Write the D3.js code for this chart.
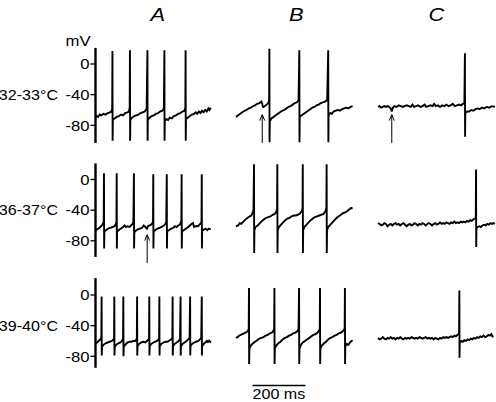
<!DOCTYPE html>
<html><head><meta charset="utf-8">
<script src="https://cdn.jsdelivr.net/npm/d3@7"></script>
<style>
html,body{margin:0;padding:0;background:#fff;}
svg{display:block;}
text{font-family:"Liberation Sans",Arial,Helvetica,sans-serif;fill:#000;}
</style></head>
<body>
<svg id="chart" width="496" height="402"></svg>
<script>
// ---------- DATA ----------
const columns = ["A", "B", "C"];
const rowLabels = ["32-33\u00B0C", "36-37\u00B0C", "39-40\u00B0C"];
const yTicks = [0, -40, -80];
const yUnit = "mV";
const scaleBarMs = 200;
const scaleBarLabel = "200 ms";
const axisTopMv = [21, 21, 22];
const axisBottomMv = [-103, -101, -95];

// traces: [time ms, membrane potential mV]
const trace32A = [[0,-69],[6,-68],[10,-69],[16,-66],[22,-67],[30,-65],[38,-66],[46,-64],[54,-63],[60,-62],[63,-58],
 [64,17],[64.6,-100],[65.5,-73],[72,-71],[80,-69],[88,-68],[96,-66],[104,-67],[112,-64],[120,-63],[126,-62],[129,-57],
 [130,18],[130.6,-100],[131.5,-73],[138,-70],[146,-68],[154,-67],[162,-66],[170,-64],[178,-63],[186,-62],[193,-58],
 [196,18],[196.6,-100],[197.5,-73],[204,-70],[212,-68],[220,-67],[228,-65],[236,-64],[244,-62],[252,-61],[258,-58],
 [260,18],[260.6,-100],[261.5,-74],[268,-72],[274,-73],[280,-70],[288,-71],[296,-68],[304,-67],[312,-65],[320,-64],[328,-62],[336,-61],[339,-57],
 [340,18],[340.6,-100],[341.5,-72],[348,-70],[356,-68],[364,-66],[372,-65],[378,-63],[384,-65],[390,-62],[396,-64],[402,-61],[408,-63],[414,-60],[420,-62],[426,-58],[430,-60],[435,-57]];
const trace32B = [[0,-69],[8,-67],[16,-65],[24,-63],[32,-61],[40,-60],[48,-58],[56,-57],[64,-55],[72,-54],[80,-52],[88,-51],[96,-49],[99,-52],[102,-57],[108,-55],[116,-53],[122,-51],[125,-47],
 [126,20],[126.6,-102],[127.5,-75],[134,-71],[142,-69],[150,-67],[158,-65],[166,-63],[174,-61],[182,-60],[190,-58],[198,-56],[206,-55],[214,-53],[222,-51],[230,-50],[236,-47],
 [239,18],[239.6,-102],[240.5,-69],[248,-67],[256,-65],[264,-63],[272,-61],[280,-59],[288,-57],[296,-56],[304,-54],[312,-53],[320,-51],[328,-50],[336,-49],[344,-47],
 [348,18],[348.6,-102],[349.5,-66],[356,-64],[362,-65],[368,-62],[376,-61],[384,-60],[392,-61],[400,-59],[408,-58],[416,-57],[424,-58],[432,-56],[440,-55]];
const trace32C = [[0,-56],[6,-55],[12,-57],[18,-56],[24,-55],[30,-56],[36,-55],[42,-56],[48,-58],[52,-62],[56,-57],[62,-55],[70,-56],[78,-54],[86,-55],[94,-56],[100,-55],[108,-54],[116,-55],[124,-56],[130,-53],[136,-56],[144,-55],[152,-54],[160,-56],[168,-55],[176,-53],[182,-56],[190,-55],[198,-54],[206,-55],[212,-52],[218,-55],[226,-54],[234,-56],[242,-54],[250,-55],[258,-53],[266,-55],[274,-54],[282,-52],[290,-55],[298,-54],[306,-53],[314,-54],[320,-52],[326,-51],
 [328,14],[328.6,-95],[329.5,-64],[336,-62],[344,-62],[352,-60],[360,-61],[368,-59],[376,-58],[384,-59],[392,-57],[400,-58],[410,-56],[420,-57],[430,-55],[441,-56]];
const trace36A = [[0,-66],[6,-65],[12,-64],[18,-62],[24,-60],[29,-57],[31,-55],
 [32,8],[32.6,-90],[33.5,-68],[40,-66],[48,-64],[56,-63],[64,-62],[72,-61],[77,-58],[79,-55],
 [80,8],[80.6,-90],[81.5,-68],[88,-66],[96,-64],[104,-62],[110,-60],[114,-62],[120,-61],[128,-62],[134,-60],[140,-58],[143,-55],
 [145,8],[145.6,-90],[146.5,-69],[152,-67],[160,-65],[168,-64],[176,-63],[182,-60],[188,-62],[194,-64],[198,-61],[204,-60],[210,-59],[215,-57],[217,-55],
 [218,7],[218.6,-90],[219.5,-68],[226,-66],[234,-64],[242,-63],[250,-62],[258,-60],[264,-58],[267,-55],
 [269,7],[269.6,-90],[270.5,-68],[278,-66],[286,-64],[294,-63],[300,-61],[306,-62],[312,-60],[318,-59],[322,-56],[324,-54],
 [325,7],[325.6,-90],[326.5,-68],[334,-66],[342,-64],[350,-62],[356,-60],[362,-58],[368,-57],[372,-62],[378,-61],[386,-61],[392,-59],[398,-57],[400,-55],
 [401,7],[401.6,-90],[402.5,-67],[410,-65],[416,-64],[422,-66],[428,-64],[435,-65]];
const trace36B = [[0,-61],[8,-60],[14,-57],[20,-58],[28,-55],[36,-52],[44,-50],[52,-48],[58,-47],[62,-44],[66,-40],
 [68,20],[68.6,-96],[69.5,-66],[74,-62],[82,-60],[90,-57],[98,-54],[106,-52],[114,-50],[122,-49],[130,-48],[138,-46],[146,-45],[152,-42],[155,-39],
 [156,20],[156.6,-96],[157.5,-66],[162,-62],[170,-59],[178,-56],[186,-53],[194,-51],[202,-50],[210,-48],[218,-47],[226,-47],[234,-46],[242,-44],[248,-41],[251,-38],
 [252,20],[252.6,-96],[253.5,-66],[258,-62],[266,-59],[274,-56],[282,-53],[290,-51],[298,-49],[306,-48],[314,-47],[322,-46],[330,-45],[338,-41],[341,-37],
 [342,20],[342.6,-96],[343.5,-66],[348,-62],[356,-59],[364,-56],[372,-53],[380,-50],[388,-48],[396,-46],[404,-44],[412,-43],[420,-41],[428,-39],[434,-37],[440,-38]];
const trace36C = [[0,-57],[6,-58],[12,-60],[18,-59],[24,-57],[30,-58],[36,-61],[42,-59],[48,-58],[54,-60],[60,-58],[66,-57],[72,-59],[78,-58],[84,-60],[90,-58],[96,-57],[102,-59],[108,-61],[114,-59],[120,-58],[126,-60],[132,-59],[138,-57],[144,-58],[150,-60],[156,-58],[162,-59],[168,-57],[174,-58],[180,-60],[186,-58],[192,-57],[198,-58],[204,-60],[210,-58],[216,-57],[222,-59],[228,-58],[234,-56],[240,-58],[246,-57],[252,-58],[258,-56],[264,-57],[270,-58],[276,-56],[282,-57],[288,-55],[294,-57],[300,-56],[306,-57],[312,-55],[318,-56],[324,-55],[330,-56],[336,-54],[342,-55],[348,-53],[354,-54],[360,-52],[366,-51],[369,-50],
 [370,13],[370.6,-88],[371.5,-63],[376,-62],[382,-61],[388,-62],[394,-60],[400,-59],[406,-60],[412,-58],[418,-59],[424,-57],[430,-58],[436,-57],[441,-58]];
const trace39A = [[0,-63],[6,-62],[12,-60],[18,-58],[22,-55],
 [23,-2],[23.6,-79],[24.5,-68],[30,-65],[38,-63],[46,-62],[54,-61],[62,-60],[68,-58],[70,-56],
 [71,-2],[71.6,-79],[72.5,-68],[78,-65],[86,-63],[94,-62],[100,-60],[104,-57],
 [105,-2],[105.6,-80],[106.5,-68],[112,-65],[120,-62],[128,-61],[136,-61],[144,-60],[150,-60],[154,-58],[156,-56],
 [157,-2],[157.6,-79],[158.5,-67],[164,-64],[172,-62],[180,-61],[188,-62],[194,-60],[200,-58],[202,-56],
 [203,-2],[203.6,-79],[204.5,-67],[210,-64],[218,-62],[226,-61],[232,-60],[238,-58],[240,-56],
 [241,-2],[241.6,-79],[242.5,-67],[248,-64],[256,-62],[264,-61],[272,-61],[280,-59],[286,-58],[290,-56],
 [291,-2],[291.6,-79],[292.5,-67],[298,-64],[306,-62],[314,-60],[319,-57],
 [321,-2],[321.6,-79],[322.5,-67],[328,-64],[336,-62],[344,-60],[350,-58],[355,-56],
 [357,-2],[357.6,-79],[358.5,-67],[364,-64],[372,-62],[380,-61],[388,-60],[394,-58],[399,-56],
 [401,-2],[401.6,-79],[402.5,-67],[408,-64],[414,-62],[420,-60],[424,-62],[428,-59],[432,-61],[436,-62]];
const trace39B = [[0,-56],[6,-55],[12,-53],[18,-52],[24,-51],[30,-50],[36,-49],[42,-48],[46,-46],[48,-44],
 [49,9],[49.6,-90],[50.5,-70],[56,-66],[64,-63],[72,-61],[80,-59],[88,-57],[96,-56],[104,-55],[112,-53],[120,-52],[128,-50],[136,-49],[142,-46],[144,-44],
 [145,9],[145.6,-90],[146.5,-70],[152,-66],[160,-63],[168,-61],[176,-58],[184,-56],[192,-55],[200,-53],[208,-52],[216,-50],[224,-49],[232,-47],[236,-44],
 [238,9],[238.6,-90],[239.5,-70],[244,-66],[252,-62],[260,-60],[268,-58],[276,-56],[284,-54],[292,-52],[300,-51],[308,-49],[314,-46],[316,-44],
 [317,9],[317.6,-90],[318.5,-70],[324,-66],[332,-63],[340,-61],[348,-58],[356,-56],[364,-55],[372,-53],[380,-52],[388,-50],[396,-49],[404,-47],[408,-45],[410,-43],
 [411,9],[411.6,-90],[412.5,-67],[418,-64],[424,-65],[430,-62],[436,-60],[440,-59]];
const trace39C = [[0,-56],[6,-58],[12,-57],[18,-55],[24,-57],[30,-58],[36,-56],[42,-57],[48,-55],[54,-57],[60,-56],[66,-58],[72,-56],[78,-57],[84,-55],[90,-57],[96,-58],[102,-56],[108,-57],[114,-56],[120,-57],[126,-55],[132,-56],[138,-57],[144,-56],[150,-57],[156,-55],[162,-56],[168,-57],[174,-56],[180,-55],[186,-57],[192,-56],[198,-57],[204,-56],[210,-58],[216,-56],[222,-57],[228,-58],[234,-56],[240,-57],[246,-55],[252,-56],[258,-55],[264,-56],[270,-55],[276,-54],[282,-55],[288,-53],[294,-54],[300,-52],[304,-51],[306,-49],
 [307,6],[307.6,-82],[308.5,-62],[314,-60],[320,-61],[326,-59],[332,-60],[338,-58],[344,-59],[350,-57],[356,-58],[362,-56],[368,-57],[374,-55],[380,-56],[386,-54],[392,-55],[398,-53],[404,-55],[410,-54],[416,-52],[422,-53],[428,-51],[432,-54],[435,-53]];

// arrows: row index, column index, time ms, tip mV, base mV
const arrowRow = [0, 0, 1];
const arrowCol = [1, 2, 0];
const arrowTime = [99, 52, 195];
const arrowTipMv = [-66, -66, -72];
const arrowBaseMv = [-103, -103, -109];

const traces = [[trace32A, trace32B, trace32C],[trace36A, trace36B, trace36C],[trace39A, trace39B, trace39C]];

// ---------- LAYOUT ----------
const panelX = [95.5, 236, 378];
const panelW = 116.6;
const timeSpan = 440;
const rowZero = [64, 179.5, 295];
const pxPer80 = 61.3;
const stretch = 1.15;

const svg = d3.select("#chart");
const xScales = panelX.map(x0 => d3.scaleLinear().domain([0, timeSpan]).range([x0, x0 + panelW]));
const yScales = rowZero.map(y0 => d3.scaleLinear().domain([-80, 0]).range([y0 + pxPer80, y0]));

function stretchedText(g, x, y, str, anchor, size, italic) {
  const t = g.append("text")
    .attr("transform", `translate(${x},${y}) scale(${stretch},1)`)
    .attr("text-anchor", anchor)
    .attr("font-size", size)
    .text(str);
  if (italic) t.attr("font-style", "italic");
  return t;
}

// column titles
const titleDx = [4, 2, 0];
columns.forEach((c, i) => {
  stretchedText(svg, panelX[i] + panelW / 2 + titleDx[i], 21, c, "middle", 19, true);
});

// traces
const line = (xs, ys) => d3.line().x(d => xs(d[0])).y(d => ys(d[1]));
traces.forEach((row, r) => {
  row.forEach((tr, c) => {
    svg.append("path")
      .attr("d", line(xScales[c], yScales[r])(tr))
      .attr("fill", "none")
      .attr("stroke", "#000")
      .attr("stroke-width", 1.9)
      .attr("stroke-linejoin", "miter")
      .attr("stroke-miterlimit", 2);
  });
});

// axes
rowZero.forEach((y0, r) => {
  const g = svg.append("g");
  const ax = panelX[0];
  g.append("line").attr("x1", ax).attr("x2", ax)
    .attr("y1", yScales[r](axisTopMv[r])).attr("y2", yScales[r](axisBottomMv[r]))
    .attr("stroke", "#000").attr("stroke-width", 2.4);
  yTicks.forEach(v => {
    g.append("line").attr("x1", ax - 5).attr("x2", ax)
      .attr("y1", yScales[r](v)).attr("y2", yScales[r](v))
      .attr("stroke", "#000").attr("stroke-width", 1.3);
    stretchedText(g, ax - 6, yScales[r](v) + 5.2, String(v), "end", 14.5, false);
  });
  stretchedText(g, 58, yScales[r](-40) + 5.2, rowLabels[r], "end", 14, false);
  if (r === 0) stretchedText(g, ax - 5, yScales[r](axisTopMv[r]) - 2, yUnit, "end", 14.5, false);
});

// arrows
arrowTime.forEach((t, i) => {
  const xs = xScales[arrowCol[i]], ys = yScales[arrowRow[i]];
  const x = xs(t), yTip = ys(arrowTipMv[i]), yBase = ys(arrowBaseMv[i]);
  svg.append("line").attr("x1", x).attr("x2", x).attr("y1", yTip + 1).attr("y2", yBase)
    .attr("stroke", "#000").attr("stroke-width", 1);
  svg.append("path")
    .attr("d", `M${x - 2.5},${yTip + 6} L${x},${yTip} L${x + 2.5},${yTip + 6}`)
    .attr("fill", "none").attr("stroke", "#000").attr("stroke-width", 1);
});

// scale bar
const sbX0 = xScales[1](62);
const sbX1 = sbX0 + (xScales[1](scaleBarMs) - xScales[1](0));
svg.append("line").attr("x1", sbX0).attr("x2", sbX1).attr("y1", 385.5).attr("y2", 385.5)
  .attr("stroke", "#000").attr("stroke-width", 1.3);
stretchedText(svg, (sbX0 + sbX1) / 2, 399, scaleBarLabel, "middle", 14, false);
</script>
</body></html>
